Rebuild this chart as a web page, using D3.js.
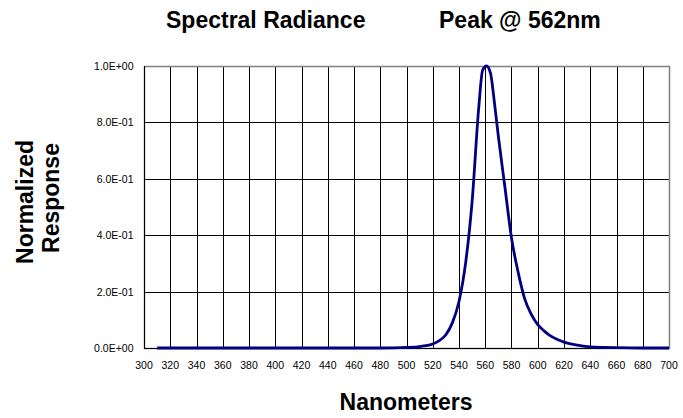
<!DOCTYPE html>
<html>
<head>
<meta charset="utf-8">
<script src="https://cdn.jsdelivr.net/npm/d3@7"></script>
<style>
  body { margin: 0; background: #fff; }
  svg { display: block; font-family: Arial, "Liberation Sans", sans-serif; }
</style>
</head>
<body>
<svg width="683" height="418"></svg>
<script>
// wavelength (nm) and normalized response
var wavelengths = [310, 400, 480, 490, 500, 510, 515, 520, 525, 530, 535, 540, 545, 550, 555, 558, 561, 564, 567, 570, 575, 580, 585, 590, 595, 600, 605, 610, 615, 620, 630, 640, 650, 660, 680, 700];
var response =    [0,   0,   0,   0.0005, 0.002, 0.005, 0.008, 0.014, 0.026, 0.047, 0.09, 0.165, 0.30, 0.52, 0.85, 0.985, 1.0, 0.975, 0.87, 0.75, 0.57, 0.39, 0.27, 0.175, 0.12, 0.083, 0.06, 0.042, 0.03, 0.021, 0.01, 0.004, 0.002, 0.001, 0, 0];
var xTicks = d3.range(300, 701, 20);
var yTicks = [0, 0.2, 0.4, 0.6, 0.8, 1.0];
var yTickLabels = ['0.0E+00', '2.0E-01', '4.0E-01', '6.0E-01', '8.0E-01', '1.0E+00'];

var svg = d3.select('svg');
var plotLeft = 144, plotRight = 669, plotTop = 66, plotBottom = 348;

var x = d3.scaleLinear().domain([300, 700]).range([plotLeft, plotRight]);
var y = d3.scaleLinear().domain([0, 1]).range([plotBottom, plotTop]);

// grid
svg.append('g').selectAll('line')
    .data(xTicks.slice(1, -1))
  .enter().append('line')
    .attr('x1', d => Math.round(x(d)) + 0.5).attr('x2', d => Math.round(x(d)) + 0.5)
    .attr('y1', plotTop).attr('y2', plotBottom)
    .attr('stroke', '#000').attr('stroke-width', 1);
svg.append('g').selectAll('line')
    .data(yTicks.slice(1, -1))
  .enter().append('line')
    .attr('x1', plotLeft).attr('x2', plotRight)
    .attr('y1', d => Math.round(y(d)) + 0.5).attr('y2', d => Math.round(y(d)) + 0.5)
    .attr('stroke', '#000').attr('stroke-width', 1);

// frame
svg.append('rect')
    .attr('x', plotLeft + 0.5).attr('y', plotTop + 0.5)
    .attr('width', plotRight - plotLeft).attr('height', plotBottom - plotTop)
    .attr('fill', 'none').attr('stroke', '#808080').attr('stroke-width', 1.5);
svg.append('line')
    .attr('x1', plotLeft + 0.5).attr('x2', plotLeft + 0.5).attr('y1', plotTop).attr('y2', plotBottom + 1)
    .attr('stroke', '#000');
svg.append('line')
    .attr('x1', plotLeft).attr('x2', plotRight).attr('y1', plotBottom + 0.5).attr('y2', plotBottom + 0.5)
    .attr('stroke', '#000');

// tick labels
svg.append('g').selectAll('text')
    .data(xTicks)
  .enter().append('text')
    .text(d => d)
    .attr('x', d => x(d))
    .attr('y', plotBottom + 21)
    .attr('text-anchor', 'middle')
    .attr('font-size', 10.5);
svg.append('g').selectAll('text')
    .data(yTicks)
  .enter().append('text')
    .text((d, i) => yTickLabels[i])
    .attr('x', plotLeft - 10.5)
    .attr('y', d => y(d) + 4)
    .attr('text-anchor', 'end')
    .attr('font-size', 10.5);

// the curve
var line = d3.line()
    .x((d, i) => x(wavelengths[i]))
    .y(d => y(d))
    .curve(d3.curveMonotoneX);
svg.append('path')
    .datum(response)
    .attr('d', line)
    .attr('fill', 'none')
    .attr('stroke', '#000080')
    .attr('stroke-width', 2.8)
    .attr('stroke-linejoin', 'round');

// titles
svg.append('text').text('Spectral Radiance')
    .attr('x', 166).attr('y', 28)
    .attr('font-size', 23).attr('font-weight', 'bold');
svg.append('text').text('Peak @ 562nm')
    .attr('x', 439).attr('y', 28)
    .attr('font-size', 23).attr('font-weight', 'bold');
svg.append('text').text('Nanometers')
    .attr('x', 406).attr('y', 410)
    .attr('text-anchor', 'middle')
    .attr('font-size', 23).attr('font-weight', 'bold');
svg.append('text').text('Normalized')
    .attr('transform', 'translate(33,202) rotate(-90)')
    .attr('text-anchor', 'middle')
    .attr('font-size', 23).attr('font-weight', 'bold');
svg.append('text').text('Response')
    .attr('transform', 'translate(59,198) rotate(-90)')
    .attr('text-anchor', 'middle')
    .attr('font-size', 23).attr('font-weight', 'bold');
</script>
</body>
</html>
